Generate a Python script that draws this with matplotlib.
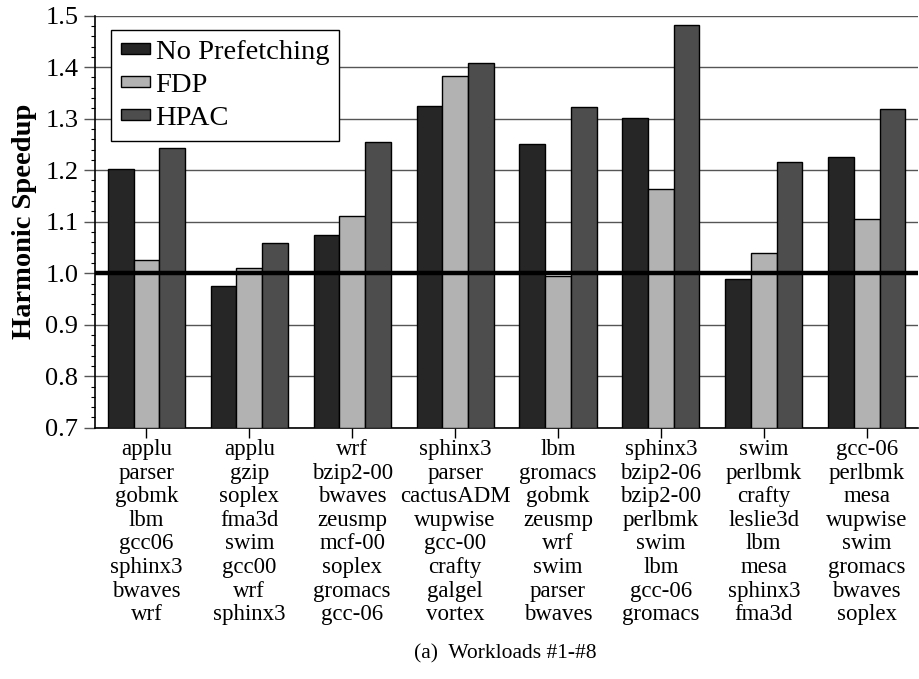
import matplotlib
matplotlib.use("Agg")
import matplotlib.pyplot as plt
import numpy as np
from matplotlib.patches import Patch
from matplotlib.ticker import MultipleLocator

plt.rcParams['font.family'] = ['Liberation Serif', 'DejaVu Serif']

workloads = [
    ["applu", "parser", "gobmk", "lbm", "gcc06", "sphinx3", "bwaves", "wrf"],
    ["applu", "gzip", "soplex", "fma3d", "swim", "gcc00", "wrf", "sphinx3"],
    ["wrf", "bzip2-00", "bwaves", "zeusmp", "mcf-00", "soplex", "gromacs", "gcc-06"],
    ["sphinx3", "parser", "cactusADM", "wupwise", "gcc-00", "crafty", "galgel", "vortex"],
    ["lbm", "gromacs", "gobmk", "zeusmp", "wrf", "swim", "parser", "bwaves"],
    ["sphinx3", "bzip2-06", "bzip2-00", "perlbmk", "swim", "lbm", "gcc-06", "gromacs"],
    ["swim", "perlbmk", "crafty", "leslie3d", "lbm", "mesa", "sphinx3", "fma3d"],
    ["gcc-06", "perlbmk", "mesa", "wupwise", "swim", "gromacs", "bwaves", "soplex"],
]
series_names = ["No Prefetching", "FDP", "HPAC"]
no_prefetching = [1.202, 0.975, 1.074, 1.325, 1.250, 1.302, 0.989, 1.226]
fdp = [1.025, 1.011, 1.112, 1.382, 0.995, 1.163, 1.039, 1.105]
hpac = [1.243, 1.058, 1.255, 1.408, 1.322, 1.481, 1.215, 1.318]
colors = ["#262626", "#b2b2b2", "#4d4d4d"]

fig = plt.figure(figsize=(9.19, 6.79), dpi=100)
ax = fig.add_axes([0.1034, 0.370, 0.8956, 0.607])

x = np.arange(len(workloads))
w = 0.25
for i, (vals, c) in enumerate(zip([no_prefetching, fdp, hpac], colors)):
    ax.bar(x + (i - 1) * w, np.array(vals) - 0.7, width=w, bottom=0.7,
           color=c, edgecolor="black", linewidth=1.0, zorder=3)

ax.axhline(1.0, color="black", linewidth=3.2, zorder=4)

ax.set_xlim(-0.5, len(workloads) - 0.5)
ax.set_ylim(0.7, 1.5)
ax.yaxis.set_major_locator(MultipleLocator(0.1))
ax.yaxis.set_minor_locator(MultipleLocator(0.02))
ax.set_yticklabels([f"{v:.1f}" for v in ax.get_yticks()], fontsize=19)
ax.yaxis.grid(True, which="major", color="#555555", linewidth=1.0, zorder=0)
ax.set_axisbelow(True)

ax.set_xticks(x)
ax.set_xticklabels(["\n".join(wl) for wl in workloads], fontsize=16.5,
                   linespacing=1.165)
ax.tick_params(axis="x", direction="out", length=7, width=1, pad=1)
ax.tick_params(axis="y", which="major", direction="out", length=8, width=1,
               color="#555555", pad=4)
ax.tick_params(axis="y", which="minor", direction="out", length=3, width=0.8)

for s in ["top", "right"]:
    ax.spines[s].set_visible(False)
for s in ["left", "bottom"]:
    ax.spines[s].set_linewidth(1.2)

ax.set_ylabel("Harmonic Speedup", fontsize=20.5, fontweight="bold", labelpad=6)

handles = [Patch(facecolor=c, edgecolor="black", linewidth=1.0) for c in colors]
leg = ax.legend(handles, series_names, loc="upper left",
                bbox_to_anchor=(0.02, 0.965), fontsize=20.5, frameon=True,
                fancybox=False, edgecolor="black", framealpha=1,
                handlelength=1.0, handleheight=0.2, handletextpad=0.2,
                borderpad=0.35, labelspacing=0.28, borderaxespad=0)
leg.get_frame().set_linewidth(1.0)
leg.set_zorder(5)

fig.text(0.55, 0.037, "(a)  Workloads #1-#8", ha="center", va="center",
         fontsize=15.5)

fig.savefig("out.png", dpi=100)
